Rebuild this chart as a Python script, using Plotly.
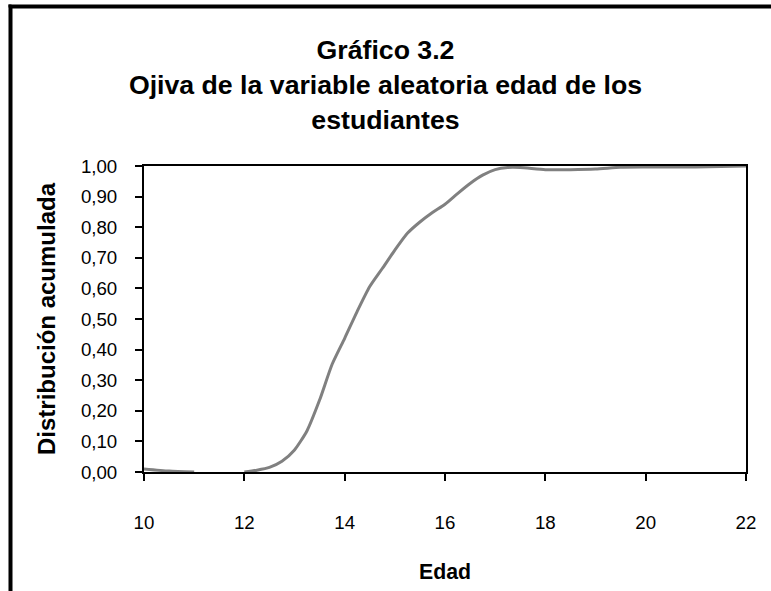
import plotly.graph_objects as go

edad = [10, 10.5, 11, 11.5, 12, 12.25, 12.5, 12.75, 13, 13.25, 13.5, 13.75,
        14, 14.25, 14.5, 14.75, 15, 15.25, 15.5, 15.75, 16, 16.25, 16.5,
        16.75, 17, 17.25, 17.5, 18, 18.5, 19, 19.5, 20, 21, 22]
acumulada = [0.01, 0.003, 0.0, None, 0.0, 0.006, 0.015, 0.035, 0.072, 0.135,
             0.235, 0.352, 0.437, 0.525, 0.606, 0.665, 0.725, 0.78, 0.817,
             0.848, 0.875, 0.91, 0.943, 0.97, 0.988, 0.995, 0.995, 0.988,
             0.988, 0.99, 0.996, 0.997, 0.997, 1.0]

titulo = "Gráfico 3.2<br>Ojiva de la variable aleatoria edad de los<br>estudiantes"
titulo_x = "Edad"
titulo_y = "Distribución acumulada"

FONT = "Arial, Liberation Sans, sans-serif"

fig = go.Figure()
fig.add_trace(go.Scatter(
    x=edad, y=acumulada, mode="lines",
    line=dict(color="#808080", width=3, shape="spline", smoothing=0.6),
    connectgaps=False, showlegend=False, hoverinfo="x+y",
))

fig.update_layout(
    width=771, height=591,
    margin=dict(l=144, r=25, t=166, b=119),
    paper_bgcolor="white", plot_bgcolor="white",
    separators=",.",
    font=dict(family=FONT, size=18.7, color="black"),
    title=dict(
        text="<b>" + titulo.replace("<br>", "</b><br><b>") + "</b>",
        x=0.5, xref="container", xanchor="center",
        y=0.9, yref="container", yanchor="top",
        font=dict(family=FONT, size=26.7, color="black"),
    ),
    xaxis=dict(
        range=[10, 22], dtick=2, tick0=10,
        showgrid=False, zeroline=False,
        showline=True, mirror=True, linecolor="black", linewidth=2,
        ticks="outside", ticklen=7, tickwidth=2, tickcolor="black",
        ticklabelstandoff=26,
        title=dict(text="<b>" + titulo_x + "</b>", standoff=32,
                   font=dict(family=FONT, size=21.3, color="black")),
    ),
    yaxis=dict(
        range=[0, 1], dtick=0.1, tick0=0, tickformat=".2f",
        showgrid=False, zeroline=False,
        showline=True, mirror=True, linecolor="black", linewidth=2,
        ticks="outside", ticklen=7, tickwidth=2, tickcolor="black",
        ticklabelstandoff=14,
        title=dict(text="<b>" + titulo_y + "</b>", standoff=18,
                   font=dict(family=FONT, size=24, color="black")),
    ),
    shapes=[
        dict(type="rect", xref="paper", yref="paper",
             x0=-0.2251, x1=-0.2201, y0=-0.5, y1=1.5278,
             line=dict(width=0), fillcolor="black"),
        dict(type="rect", xref="paper", yref="paper",
             x0=-0.2251, x1=1.05, y0=1.5180, y1=1.5278,
             line=dict(width=0), fillcolor="black"),
    ],
    annotations=[
        # outer chart frame drawn as an empty bordered box (top-left corner visible)
        dict(text=" ", showarrow=False, xref="paper", yref="paper",
             x=-0.2226, y=1.5229, xanchor="left", yanchor="top",
             width=800, height=620, bordercolor="black", borderwidth=2.5,
             borderpad=0, bgcolor="rgba(0,0,0,0)"),
    ],
)

fig.write_html("out.html", config={"displayModeBar": False},
               post_script="document.body.style.margin='0';")
